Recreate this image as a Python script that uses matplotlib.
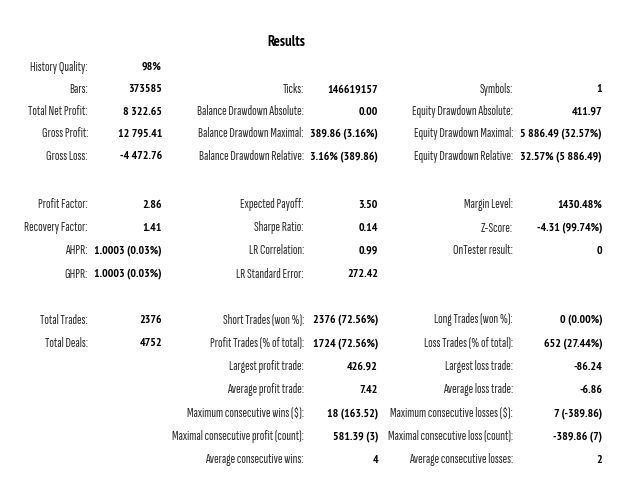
import matplotlib
matplotlib.use("Agg")
import matplotlib.pyplot as plt

title = "Results"

# group 1
g1_col1_labels = ["History Quality:", "Bars:", "Total Net Profit:", "Gross Profit:", "Gross Loss:"]
g1_col1_values = ["98%", "373585", "8 322.65", "12 795.41", "-4 472.76"]
g1_col2_labels = ["", "Ticks:", "Balance Drawdown Absolute:", "Balance Drawdown Maximal:", "Balance Drawdown Relative:"]
g1_col2_values = ["", "146619157", "0.00", "389.86 (3.16%)", "3.16% (389.86)"]
g1_col3_labels = ["", "Symbols:", "Equity Drawdown Absolute:", "Equity Drawdown Maximal:", "Equity Drawdown Relative:"]
g1_col3_values = ["", "1", "411.97", "5 886.49 (32.57%)", "32.57% (5 886.49)"]

# group 2
g2_col1_labels = ["Profit Factor:", "Recovery Factor:", "AHPR:", "GHPR:"]
g2_col1_values = ["2.86", "1.41", "1.0003 (0.03%)", "1.0003 (0.03%)"]
g2_col2_labels = ["Expected Payoff:", "Sharpe Ratio:", "LR Correlation:", "LR Standard Error:"]
g2_col2_values = ["3.50", "0.14", "0.99", "272.42"]
g2_col3_labels = ["Margin Level:", "Z-Score:", "OnTester result:", ""]
g2_col3_values = ["1430.48%", "-4.31 (99.74%)", "0", ""]

# group 3
g3_col1_labels = ["Total Trades:", "Total Deals:", "", "", "", "", ""]
g3_col1_values = ["2376", "4752", "", "", "", "", ""]
g3_col2_labels = ["Short Trades (won %):", "Profit Trades (% of total):", "Largest profit trade:",
                  "Average profit trade:", "Maximum consecutive wins ($):",
                  "Maximal consecutive profit (count):", "Average consecutive wins:"]
g3_col2_values = ["2376 (72.56%)", "1724 (72.56%)", "426.92", "7.42", "18 (163.52)", "581.39 (3)", "4"]
g3_col3_labels = ["Long Trades (won %):", "Loss Trades (% of total):", "Largest loss trade:",
                  "Average loss trade:", "Maximum consecutive losses ($):",
                  "Maximal consecutive loss (count):", "Average consecutive losses:"]
g3_col3_values = ["0 (0.00%)", "652 (27.44%)", "-86.24", "-6.86", "7 (-389.86)", "-389.86 (7)", "2"]

W, H = 640, 480
fig = plt.figure(figsize=(W / 100, H / 100), dpi=100)
fig.patch.set_facecolor("white")

LABEL_FONT = ["Sofia Sans Extra Condensed", "PT Sans Narrow", "DejaVu Sans"]
VALUE_FONT = ["PT Sans Narrow", "DejaVu Sans"]
LABEL_FS = 9.8
VALUE_FS = 8.5
label_color = "#2b2b2b"

def px(x, y):
    return x / W, 1 - y / H

col_label_x = [88, 304, 513]
col_value_x = [162, 378, 602]

def draw_group(y0, step, cols):
    for ci, (labels, values) in enumerate(cols):
        for ri, (lab, val) in enumerate(zip(labels, values)):
            y = y0 + ri * step
            if lab:
                fig.text(*px(col_label_x[ci], y), lab, ha="right", va="center",
                         fontsize=LABEL_FS, family=LABEL_FONT, color=label_color)
            if val:
                fig.text(*px(col_value_x[ci], y), val, ha="right", va="center",
                         fontsize=VALUE_FS, family=VALUE_FONT, color="black", fontweight="bold")

fig.text(*px(286, 42), title, ha="center", va="center", fontsize=10.5,
         family=VALUE_FONT, fontweight="bold", color="black")

draw_group(67, 22.3, [(g1_col1_labels, g1_col1_values),
                      (g1_col2_labels, g1_col2_values),
                      (g1_col3_labels, g1_col3_values)])
draw_group(205, 23, [(g2_col1_labels, g2_col1_values),
                     (g2_col2_labels, g2_col2_values),
                     (g2_col3_labels, g2_col3_values)])
draw_group(320, 23.3, [(g3_col1_labels, g3_col1_values),
                       (g3_col2_labels, g3_col2_values),
                       (g3_col3_labels, g3_col3_values)])

fig.savefig("out.png", dpi=100, facecolor="white")
